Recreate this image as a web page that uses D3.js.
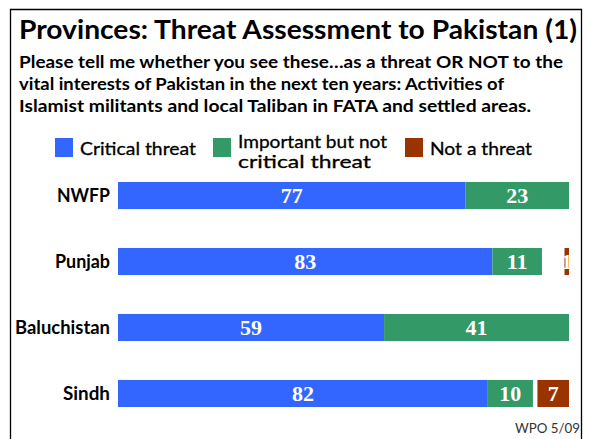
<!DOCTYPE html>
<html>
<head>
<meta charset="utf-8">
<script src="https://cdn.jsdelivr.net/npm/d3@7"></script>
<style>
  body { margin: 0; background: #fff; }
  svg { display: block; }
</style>
</head>
<body>
<div id="chart"></div>
<script>
// data
let provinces = ['NWFP', 'Punjab', 'Baluchistan', 'Sindh'];
let critical = [77, 83, 59, 82];
let important = [23, 11, 41, 10];
let notThreat = [0, 1, 0, 7];
let legendNames = ['Critical threat', 'Important but not|critical threat', 'Not a threat'];
let colors = ['#3366ff', '#339966', '#993300'];

let width = 589;
let height = 439;
let sans = 'Lato, "Open Sans", sans-serif';

let svg = d3.select('#chart')
    .append('svg')
    .attr('width', width)
    .attr('height', height);

// frame (open at the bottom)
svg.append('path')
    .attr('d', 'M10.5,' + height + 'V9.5H581.5V' + height)
    .attr('fill', 'none')
    .attr('stroke', '#000')
    .attr('stroke-width', 1.3);

// squeeze/stretch a text to the width measured on the reference
function fit(sel, w) {
    sel.attr('textLength', w).attr('lengthAdjust', 'spacingAndGlyphs');
}

svg.append('text')
    .attr('x', 19)
    .attr('y', 39)
    .style('font-family', sans)
    .style('font-weight', 'bold')
    .style('font-size', '26px')
    .text('Provinces: Threat Assessment to Pakistan (1)')
    .call(fit, 558);

let sub = [
    ['Please tell me whether you see these…as a threat OR NOT to the', 544],
    ['vital interests of Pakistan in the next ten years: Activities of', 485],
    ['Islamist militants and local Taliban in FATA and settled areas.', 512]
];
sub.forEach((s, i) => {
    svg.append('text')
        .attr('x', 19)
        .attr('y', 68 + i * 22)
        .style('font-family', sans)
        .style('font-weight', 'bold')
        .style('font-size', '17px')
        .text(s[0])
        .call(fit, s[1]);
});

// legend
let legendX = [55, 213, 405];
let legendW = [116, 149, 102];
legendNames.forEach((name, i) => {
    svg.append('rect')
        .attr('x', legendX[i])
        .attr('y', 138)
        .attr('width', 18)
        .attr('height', 19)
        .attr('fill', colors[i]);
    let lines = name.split('|');
    lines.forEach((ln, j) => {
        let t = svg.append('text')
            .attr('x', legendX[i] + 25)
            .attr('y', lines.length == 1 ? 155 : 148 + j * 20)
            .attr('stroke', '#000')
            .attr('stroke-width', 0.3)
            .style('font-family', sans)
            .style('font-size', '18px')
            .text(ln);
        if (j == 0) t.call(fit, legendW[i]);
        else t.call(fit, 133);
    });
});

// scales
let x = d3.scaleLinear().domain([0, 100]).range([118, 569]);
let y = d3.scaleBand()
    .domain(provinces)
    .range([182, 407])
    .paddingInner(0.59)
    .paddingOuter(0);

let labelW = { NWFP: 53, Punjab: 55, Baluchistan: 95, Sindh: 47 };

let rows = provinces.map((p, i) => ({
    name: p,
    segs: [
        { x0: 0, x1: critical[i], v: critical[i], c: 0 },
        { x0: critical[i], x1: critical[i] + important[i], v: important[i], c: 1 },
        { x0: 100 - notThreat[i], x1: 100, v: notThreat[i], c: 2 }
    ].filter(s => s.v > 0)
}));

let g = svg.selectAll('.row')
    .data(rows)
    .enter()
    .append('g')
    .attr('class', 'row')
    .attr('transform', d => 'translate(0,' + y(d.name) + ')');

g.append('text')
    .attr('x', 110)
    .attr('y', y.bandwidth() / 2 + 6.5)
    .attr('text-anchor', 'end')
    .style('font-family', sans)
    .style('font-weight', 'bold')
    .style('font-size', '18px')
    .text(d => d.name)
    .each(function(d) { d3.select(this).call(fit, labelW[d.name]); });

let seg = g.selectAll('.seg')
    .data(d => d.segs)
    .enter();

seg.append('rect')
    .attr('x', d => x(d.x0))
    .attr('y', 0)
    .attr('width', d => x(d.x1) - x(d.x0))
    .attr('height', y.bandwidth())
    .attr('fill', d => colors[d.c]);

seg.append('text')
    .attr('x', d => (x(d.x0) + x(d.x1)) / 2)
    .attr('y', y.bandwidth() / 2 + 7.5)
    .attr('text-anchor', 'middle')
    .attr('fill', '#fff')
    .style('font-family', '"Liberation Serif", serif')
    .style('font-weight', 'bold')
    .style('font-size', '22px')
    .text(d => d.v);

svg.append('text')
    .attr('x', 580)
    .attr('y', 433)
    .attr('text-anchor', 'end')
    .attr('fill', '#333')
    .style('font-family', sans)
    .style('font-size', '14px')
    .text('WPO 5/09')
    .call(fit, 65);
</script>
</body>
</html>
